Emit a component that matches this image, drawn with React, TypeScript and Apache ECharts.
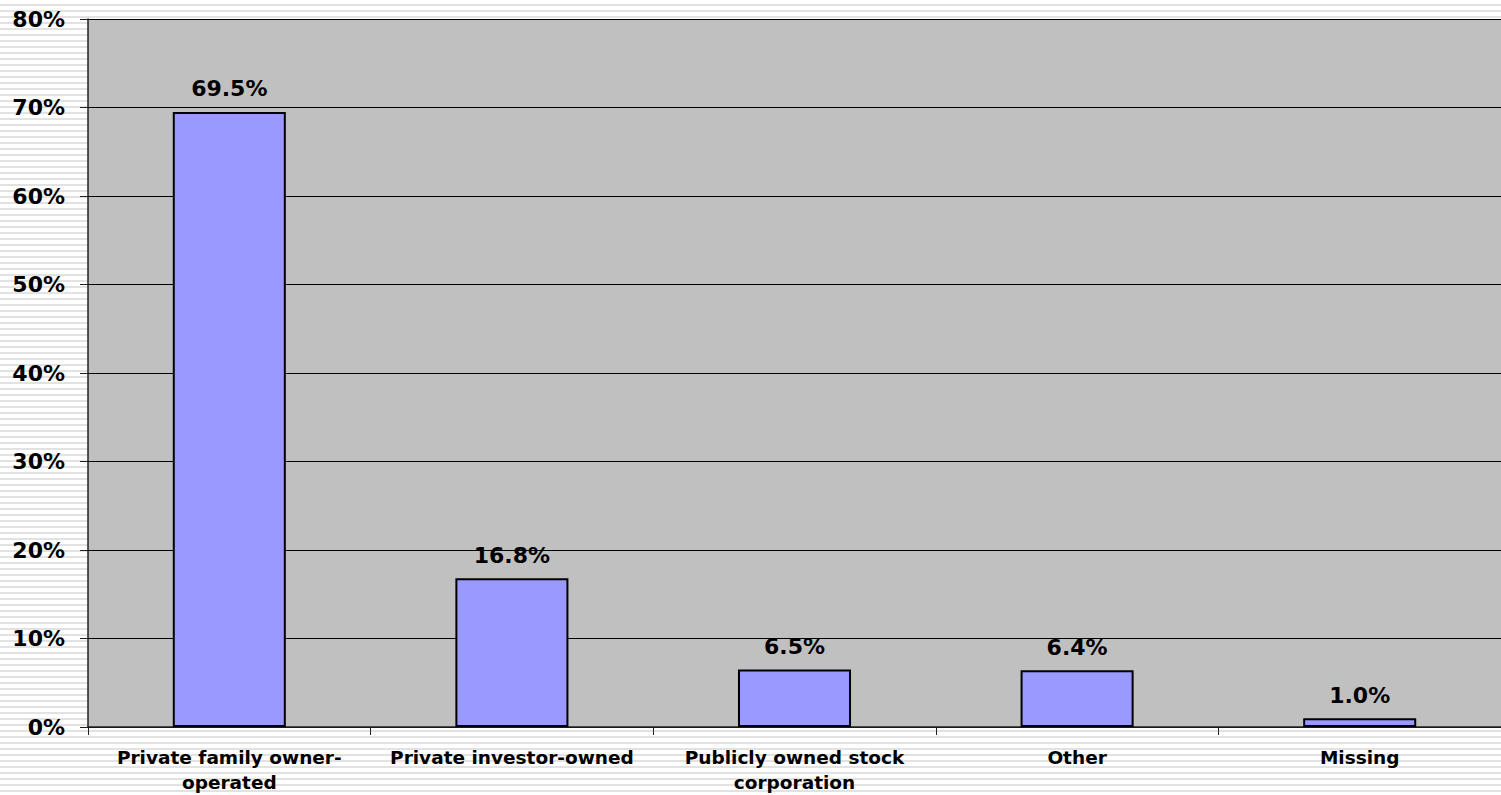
import React, { useEffect, useRef } from "react";
import * as echarts from "echarts";

const categories = [
  "Private family owner-\noperated",
  "Private investor-owned",
  "Publicly owned stock\ncorporation",
  "Other",
  "Missing",
];
const values = [69.5, 16.8, 6.5, 6.4, 1.0];
const yMin = 0;
const yMax = 80;
const yInterval = 10;

const FONT = "'DejaVu Sans', 'Liberation Sans', Arial, sans-serif";

export default function App() {
  const ref = useRef<HTMLDivElement>(null);
  useEffect(() => {
    document.body.style.margin = "0";
    const chart = echarts.init(ref.current!, null, { renderer: "svg" });
    chart.setOption({
      animation: false,
      textStyle: { fontFamily: FONT },
      grid: {
        left: 88,
        right: 0,
        top: 19,
        bottom: 68,
        show: true,
        backgroundColor: "#c0c0c0",
        borderWidth: 0,
      },
      xAxis: {
        type: "category",
        data: categories,
        axisLine: { lineStyle: { color: "#222", width: 1.5 } },
        axisTick: { show: true, length: 8, lineStyle: { color: "#222" } },
        axisLabel: {
          interval: 0,
          color: "#000",
          fontWeight: "bold",
          fontSize: 18.5,
          lineHeight: 25,
          margin: 18,
          fontFamily: FONT,
        },
      },
      yAxis: {
        type: "value",
        min: yMin,
        max: yMax,
        interval: yInterval,
        axisLine: { show: true, lineStyle: { color: "#222", width: 1.5 } },
        axisTick: { show: true, length: 8, lineStyle: { color: "#222" } },
        axisLabel: {
          formatter: "{value}%",
          color: "#000",
          fontWeight: "bold",
          fontSize: 22,
          margin: 23,
          fontFamily: FONT,
        },
        splitLine: { show: true, lineStyle: { color: "#000", width: 1 } },
      },
      series: [
        {
          type: "bar",
          data: values,
          barWidth: "40%",
          itemStyle: { color: "#9999ff", borderColor: "#000", borderWidth: 2 },
          label: {
            show: true,
            position: "top",
            distance: 12,
            formatter: (p: any) => p.value.toFixed(1) + "%",
            color: "#000",
            fontWeight: "bold",
            fontSize: 22,
            fontFamily: FONT,
          },
        },
      ],
    });
    return () => chart.dispose();
  }, []);
  return (
    <div
      ref={ref}
      style={{
        position: "absolute",
        left: 0,
        top: 0,
        width: 1501,
        height: 795,
        background:
          "repeating-linear-gradient(to bottom, #ffffff 0px, #ffffff 4px, #e2e2e2 4px, #e2e2e2 6px)",
      }}
    />
  );
}
